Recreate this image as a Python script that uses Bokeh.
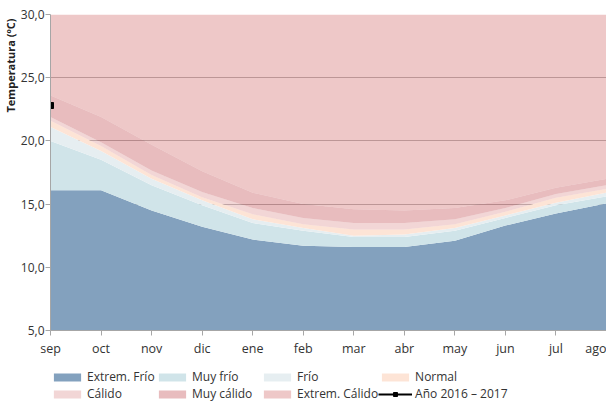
from bokeh.plotting import figure
from bokeh.layouts import column
from bokeh.models import Range1d, FixedTicker, Legend, LegendItem, ColumnDataSource, Title
from bokeh.embed import file_html
from bokeh.resources import INLINE

months = ["sep", "oct", "nov", "dic", "ene", "feb", "mar", "abr", "may", "jun", "jul", "ago"]
x = list(range(len(months)))

y_min = [5.0, 5.0, 5.0, 5.0, 5.0, 5.0, 5.0, 5.0, 5.0, 5.0, 5.0, 5.0]
ext_frio = [16.1, 16.1, 14.5, 13.2, 12.2, 11.7, 11.6, 11.6, 12.1, 13.3, 14.25, 15.05]
muy_frio = [20.0, 18.5, 16.5, 14.9, 13.5, 12.9, 12.4, 12.4, 12.9, 13.9, 14.9, 15.6]
frio = [21.1, 19.2, 17.0, 15.3, 13.8, 13.1, 12.5, 12.6, 13.1, 14.1, 15.1, 15.9]
normal = [21.6, 19.6, 17.3, 15.55, 14.2, 13.4, 13.0, 13.0, 13.4, 14.4, 15.5, 16.2]
calido = [21.9, 19.9, 17.65, 15.95, 14.7, 13.9, 13.5, 13.5, 13.8, 14.7, 15.8, 16.5]
muy_calido = [23.6, 21.9, 19.7, 17.6, 15.9, 15.0, 14.6, 14.5, 14.7, 15.3, 16.3, 17.0]
ext_calido = [30.0, 30.0, 30.0, 30.0, 30.0, 30.0, 30.0, 30.0, 30.0, 30.0, 30.0, 30.0]

anio_x = [0]
anio_y = [22.8]

y_ticks = [5, 10, 15, 20, 25, 30]
y_tick_labels = ["5,0", "10,0", "15,0", "20,0", "25,0", "30,0"]

FONT = "Open Sans"
TXT = "#333333"

p = figure(frame_width=556, frame_height=316, output_backend="svg", toolbar_location=None,
           x_range=Range1d(0, 11), y_range=Range1d(5, 30),
           min_border_left=50, min_border_right=0, min_border_top=14, min_border_bottom=0)
p.outline_line_color = None

src = ColumnDataSource(dict(x=x, y0=y_min, ef=ext_frio, mf=muy_frio, f=frio, n=normal,
                            c=calido, mc=muy_calido, ec=ext_calido))

bands = [
    ("Extrem. Frío", "y0", "ef", "#83a1be", 1.0),
    ("Muy frío", "ef", "mf", "#d0e4e9", 1.0),
    ("Frío", "mf", "f", "#e6eef1", 1.0),
    ("Normal", "f", "n", "#fde4d6", 1.0),
    ("Cálido", "n", "c", "#e5adad", 0.5),
    ("Muy cálido", "c", "mc", "#d1797d", 0.5),
    ("Extrem. Cálido", "mc", "ec", "#dd9191", 0.5),
]
for name, lo, hi, col, a in bands:
    p.varea(x="x", y1=lo, y2=hi, source=src, fill_color=col, fill_alpha=a)

p.line(anio_x, anio_y, line_color="black", line_width=2)
p.scatter(anio_x, anio_y, marker="square", size=6, fill_color="black", line_color="black")

p.xgrid.grid_line_color = None
p.ygrid.grid_line_color = "#9a9a9a"
p.ygrid.ticker = FixedTicker(ticks=y_ticks)

p.xaxis.ticker = FixedTicker(ticks=x)
p.xaxis.major_label_overrides = {i: m for i, m in zip(x, months)}
p.yaxis.ticker = FixedTicker(ticks=y_ticks)
p.yaxis.major_label_overrides = {t: l for t, l in zip(y_ticks, y_tick_labels)}

for ax in (p.xaxis, p.yaxis):
    ax.axis_line_color = "#a6a6a6"
    ax.major_tick_line_color = "#a6a6a6"
    ax.major_tick_out = 5
    ax.major_tick_in = 0
    ax.minor_tick_line_color = None
    ax.major_label_text_font = FONT
    ax.major_label_text_color = TXT
p.xaxis.major_label_text_font_size = "12.5px"
p.yaxis.major_label_text_font_size = "12px"
p.xaxis.major_label_standoff = 4
p.yaxis.major_label_standoff = 1

ytitle = Title(text="Temperatura (ºC)", align="right", text_font=FONT,
               text_font_size="11px", text_font_style="bold", text_color="#222222",
               offset=4, standoff=0)
p.add_layout(ytitle, "left")

# legend figure: swatches share the band styles; their dummy glyphs sit outside the view
p2 = figure(width=604, height=44, output_backend="svg", toolbar_location=None,
            x_axis_type=None, y_axis_type=None, x_range=Range1d(0, 1), y_range=Range1d(0, 1),
            min_border=0)
p2.outline_line_color = None
p2.grid.visible = False
items = []
for name, lo, hi, col, a in bands:
    r = p2.varea(x=[5, 6], y1=[5, 5], y2=[6, 6], fill_color=col, fill_alpha=a)
    items.append(LegendItem(label=name, renderers=[r]))
rl = p2.line(x=[5, 6], y=[5, 5], line_color="black", line_width=2)
rs = p2.scatter(x=[5], y=[5], marker="square", size=6, fill_color="black", line_color="black")
items.append(LegendItem(label="Año 2016 – 2017", renderers=[rl, rs]))

legend = Legend(items=items,
                orientation="horizontal", ncols=4, location=(0, 1),
                glyph_width=34, glyph_height=10, label_height=14, label_width=68, spacing=0,
                label_standoff=3, padding=0, margin=0,
                label_text_font=FONT, label_text_font_size="12px", label_text_color=TXT,
                border_line_color=None, background_fill_alpha=0)
p2.add_layout(legend, "center")

layout = column(p, p2, spacing=0)
open("out.html", "w").write(file_html(layout, INLINE))
